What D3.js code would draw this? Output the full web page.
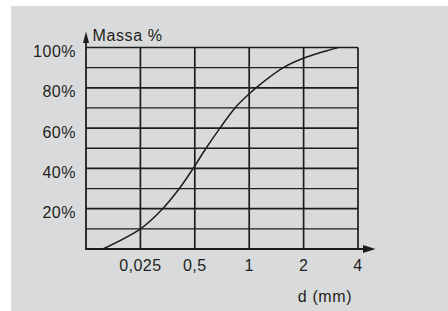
<!DOCTYPE html>
<html><head><meta charset="utf-8">
<script src="https://cdn.jsdelivr.net/npm/d3@7"></script>
<style>
html,body{margin:0;padding:0;background:#fff;}
svg{display:block;}
text{font-family:"Liberation Sans",Arial,Helvetica,sans-serif;fill:#231f20;}
</style></head>
<body>
<script>
// ---- data ----
const xTickLabels = ["", "0,025", "0,5", "1", "2", "4"];
const yTickValues = [20, 40, 60, 80, 100];
const yGridValues = [10, 20, 30, 40, 50, 60, 70, 80, 90, 100];
// curve: position along the sieve axis (tick index units) and passing mass %
const curvePos = [0.31, 1.0, 1.41, 1.715, 1.97, 2.206, 2.463, 2.739, 3.0, 3.125, 3.627, 4.007, 4.638];
const curvePct = [0, 10, 20, 30, 40, 50, 60, 70, 77, 80, 90, 94.8, 100];
const yTitle = "Massa %";
const xTitle = "d (mm)";

// ---- drawing ----
const W = 448, H = 311;
const svg = d3.select("body").append("svg").attr("width", W).attr("height", H);
svg.append("rect").attr("x", 11).attr("y", 6).attr("width", W - 11).attr("height", H - 6).attr("fill", "#d9dadb");

const x = d3.scaleLinear().domain([0, xTickLabels.length - 1]).range([86, 358]);
const y = d3.scaleLinear().domain([0, 100]).range([249, 47.5]);
const ink = "#1d1d1b";

// horizontal grid
svg.append("g").selectAll("line").data(yGridValues).join("line")
  .attr("x1", x(0)).attr("x2", x(xTickLabels.length - 1))
  .attr("y1", d => y(d)).attr("y2", d => y(d))
  .attr("stroke", ink).attr("stroke-width", d => d % 20 === 0 ? 1.7 : 1.3);

// vertical grid
svg.append("g").selectAll("line").data(d3.range(1, xTickLabels.length)).join("line")
  .attr("x1", d => x(d)).attr("x2", d => x(d))
  .attr("y1", y(0)).attr("y2", y(100))
  .attr("stroke", ink).attr("stroke-width", 1.7);

// axes
svg.append("line").attr("x1", x(0)).attr("x2", x(0)).attr("y1", y(0) + 0.8).attr("y2", 40)
  .attr("stroke", ink).attr("stroke-width", 1.8);
svg.append("line").attr("x1", x(0) - 0.8).attr("x2", 366).attr("y1", y(0)).attr("y2", y(0))
  .attr("stroke", ink).attr("stroke-width", 1.8);
// arrowheads
svg.append("path").attr("d", `M${x(0)},31.5 L${x(0) - 3},43 L${x(0) + 3},43 Z`).attr("fill", ink);
svg.append("path").attr("d", `M375.5,${y(0)} L363,${y(0) - 4} L363,${y(0) + 4} Z`).attr("fill", ink);

// curve
const pts = curvePos.map((p, i) => [p, curvePct[i]]);
svg.append("path").datum(pts)
  .attr("d", d3.line().x(d => x(d[0])).y(d => y(d[1])).curve(d3.curveCatmullRom.alpha(0.5)))
  .attr("fill", "none").attr("stroke", ink).attr("stroke-width", 1.5);

// y labels
svg.append("g").selectAll("text").data(yTickValues).join("text")
  .attr("x", 76).attr("y", d => y(d) + 9.5)
  .attr("text-anchor", "end").attr("font-size", 16).attr("letter-spacing", 0.5)
  .text(d => d + "%");

// x labels
svg.append("g").selectAll("text").data(xTickLabels).join("text")
  .attr("x", (d, i) => x(i)).attr("y", 270.5)
  .attr("text-anchor", "middle").attr("font-size", 16).attr("letter-spacing", 0.5)
  .text(d => d);

svg.append("text").attr("x", 92.5).attr("y", 40.7).attr("font-size", 16).attr("letter-spacing", 0.6).text(yTitle);
svg.append("text").attr("x", 325).attr("y", 301.5).attr("text-anchor", "middle").attr("font-size", 16).attr("letter-spacing", 0.6).text(xTitle);
</script>
</body></html>
